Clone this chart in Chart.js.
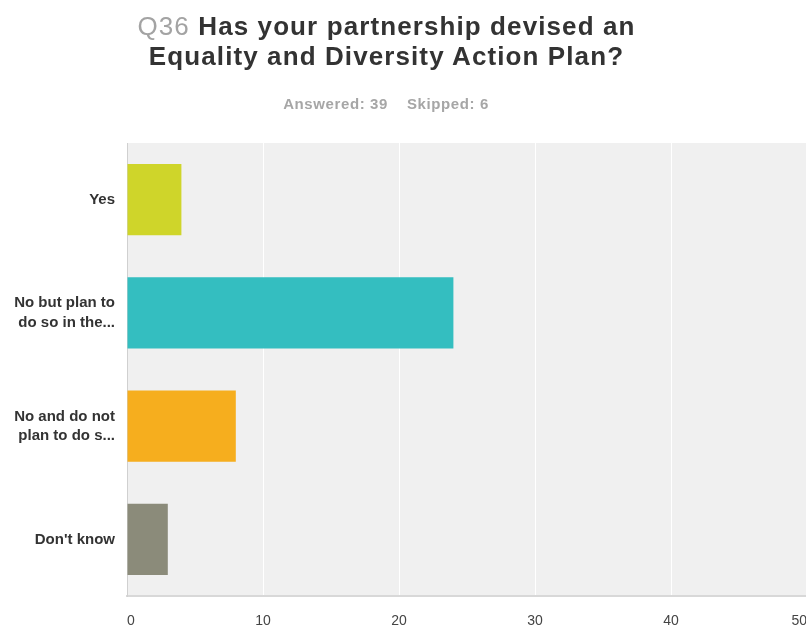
<!DOCTYPE html>
<html>
<head>
<meta charset="utf-8">
<script src="https://cdn.jsdelivr.net/npm/chart.js@4.4.1/dist/chart.umd.min.js"></script>
<style>
	html, body { margin: 0; padding: 0; background: #fff; overflow: hidden; }
	#wrap { position: relative; width: 806px; height: 630px; overflow: hidden; }
	#title {
		position: absolute; left: 0; top: 11px; width: 773px;
		text-align: center; font-family: "Liberation Sans", Arial, sans-serif;
		font-size: 26px; font-weight: bold; color: #333; line-height: 30px;
		letter-spacing: 1.1px;
	}
	#title .q { color: #a3a3a3; font-weight: normal; }
	#sub {
		position: absolute; left: 0; top: 95px; width: 772px;
		text-align: center; font-family: "Liberation Sans", Arial, sans-serif;
		font-size: 15px; font-weight: bold; color: #a6a6a6; letter-spacing: 0.6px;
	}
	#chart { position: absolute; left: 0; top: 0; }
</style>
</head>
<body>
<div id="wrap">
	<canvas id="chart" width="824" height="630"></canvas>
	<div id="title"><span class="q">Q36</span> Has your partnership devised an<br>Equality and Diversity Action Plan?</div>
	<div id="sub">Answered: 39&nbsp;&nbsp;&nbsp;&nbsp;Skipped: 6</div>
</div>
<script>
	// answer choices and response counts
	const categories = [
		'Yes',
		['No but plan to', 'do so in the...'],
		['No and do not', 'plan to do s...'],
		"Don't know"
	];
	const responses = [4, 24, 8, 3];
	const barColors = ['#cfd52a', '#34bec0', '#f6ae1e', '#8b8b7a'];
	const xTicks = [0, 10, 20, 30, 40, 50];

	// grey plot background + slightly wider lettering like the original
	const plotBg = {
		id: 'plotBg',
		beforeInit: function (chart) {
			chart.ctx.letterSpacing = '0.6px';
		},
		beforeDraw: function (chart) {
			const a = chart.chartArea;
			const ctx = chart.ctx;
			ctx.save();
			ctx.fillStyle = '#f0f0f0';
			ctx.fillRect(a.left, a.top, a.right - a.left, a.bottom - a.top);
			ctx.restore();
		}
	};

	new Chart(document.getElementById('chart'), {
		type: 'bar',
		data: {
			labels: categories,
			datasets: [{
				data: responses,
				backgroundColor: barColors,
				borderWidth: 0,
				barPercentage: 0.63,
				categoryPercentage: 1
			}]
		},
		options: {
			indexAxis: 'y',
			responsive: false,
			animation: false,
			layout: { padding: { top: 143, right: 0, bottom: 0, left: 0 } },
			plugins: {
				legend: { display: false },
				tooltip: { enabled: false }
			},
			scales: {
				x: {
					min: 0,
					max: 50,
					afterBuildTicks: function (scale) {
						scale.ticks = xTicks.map(v => ({ value: v }));
					},
					afterFit: function (scale) { scale.height = 34; },
					grid: { color: '#ffffff', lineWidth: 1, drawTicks: false },
					border: { display: true, color: '#d8d8d8', width: 2 },
					ticks: {
						align: 'inner',
						padding: 17,
						color: '#444',
						font: { family: 'Liberation Sans, Arial', size: 14 }
					}
				},
				y: {
					afterFit: function (scale) { scale.width = 127; },
					grid: { display: false, drawTicks: false },
					border: { display: true, color: '#d0d0d0', width: 1 },
					ticks: {
						padding: 12,
						color: '#333',
						font: { family: 'Liberation Sans, Arial', size: 15, weight: 'bold', lineHeight: 1.3 }
					}
				}
			}
		},
		plugins: [plotBg]
	});
</script>
</body>
</html>
